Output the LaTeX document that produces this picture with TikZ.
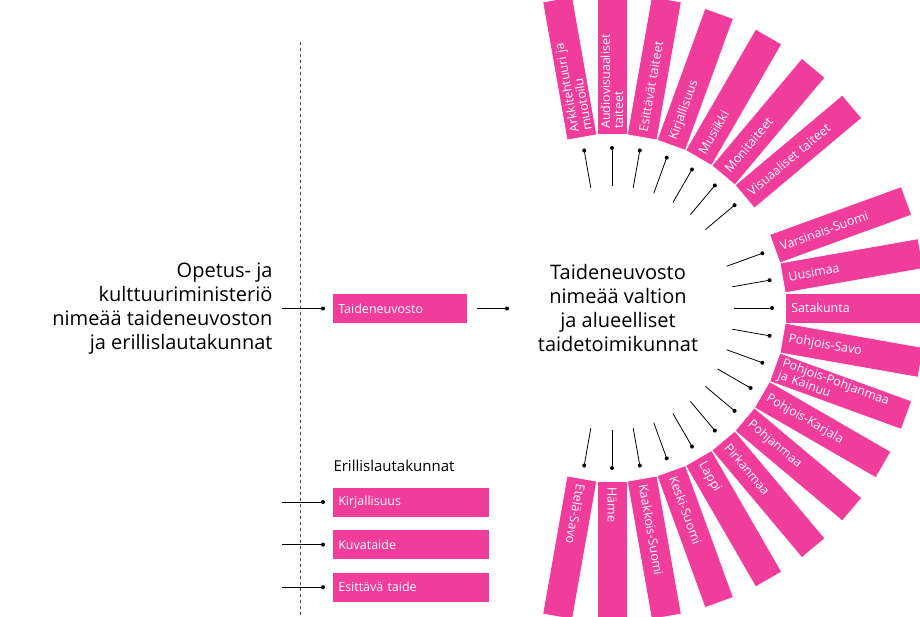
\documentclass[tikz,border=0pt]{standalone}
\usepackage{fontspec}
\setmainfont{Open Sans}
\usetikzlibrary{positioning}
\definecolor{mypink}{RGB}{240,60,155}

\tikzset{
  pinkbox/.style={fill=mypink, text=white, draw=white, line width=0.6pt, anchor=west,
    minimum height=30, inner xsep=6pt, inner ysep=1pt, align=left,
    font=\fontsize{12.5}{13}\selectfont},
  bartxt/.style={pinkbox, text width=128, minimum height=30},
  tick/.style={black, line width=0.8pt},
  bigtxt/.style={font=\fontsize{20}{24}\selectfont, align=center}
}

\begin{document}
\begin{tikzpicture}[x=1pt,y=1pt]
    \useasboundingbox (0,0) rectangle (920,-616);
    \clip (0,0) rectangle (920,-616);

    % left side
    \draw[dashed, gray!60!black, line width=0.6pt] (300,-42) -- (300,-616);
    \node(okm) [bigtxt, align=right, anchor=east] at (276,-309)
      {Opetus- ja\\kulttuuriministeriö\\nimeää taideneuvoston\\ja erillislautakunnat};

    \node(tn) [pinkbox, minimum width=135, text width=123] at (332,-308.5) {Taideneuvosto};
    \coordinate(tnin) at (282,-308.5);
    \coordinate(tnout) at (507,-308.5);
    \draw[tick] (tnin) -- ([xshift=-9]tn.west);
    \fill ([xshift=-9]tn.west) circle (2);
    \draw[tick] ([xshift=9]tn.east) -- (tnout);
    \fill (tnout) circle (2);

    \node(el) [anchor=west, font=\fontsize{15}{18}\selectfont] at (330,-466) {Erillislautakunnat};
    \node(k1) [pinkbox, minimum width=157, text width=145] at (332,-502) {Kirjallisuus};
    \node(k2) [pinkbox, minimum width=157, text width=145, below=12 of k1.south west, anchor=north west] {Kuvataide};
    \node(k3) [pinkbox, minimum width=157, text width=145, below=12 of k2.south west, anchor=north west] {Esittävä taide};
    \foreach \k in {k1,k2,k3}{
      \coordinate(\k l) at ([xshift=-50]\k.west);
      \draw[tick] (\k l) -- ([xshift=-9]\k.west);
      \fill ([xshift=-9]\k.west) circle (2);
    }

    % centre and the radial bars
    \begin{scope}[shift={(612,-308)}]
      \node(tdn) [bigtxt] at (6,0)
        {Taideneuvosto\\nimeää valtion\\ja alueelliset\\taidetoimikunnat};
      \foreach \a/\lbl in {100/{Arkkitehtuuri ja\\muotoilu}, 90/{Audiovisuaaliset\\taiteet},
          80/Esittävät taiteet, 70/Kirjallisuus, 60/Musiikki, 50/Monitaiteet,
          40/Visuaaliset taiteet,
          20/Varsinais-Suomi, 10/Uusimaa, 0/Satakunta, -10/Pohjois-Savo,
          -20/{Pohjois-Pohjanmaa\\ja Kainuu}, -30/Pohjois-Karjala, -40/Pohjanmaa,
          -50/Pirkanmaa, -60/Lappi, -70/Keski-Suomi, -80/Kaakkois-Suomi,
          -90/Häme, -100/Etelä-Savo}{
        \node(b\a) [bartxt, rotate=\a] at (\a:173) {\lbl};
        \coordinate(i\a) at (\a:122);
        \coordinate(o\a) at (\a:160);
        \draw[tick] (i\a) -- (o\a);
        \fill (o\a) circle (2);
      }
    \end{scope}
\end{tikzpicture}
\end{document}
